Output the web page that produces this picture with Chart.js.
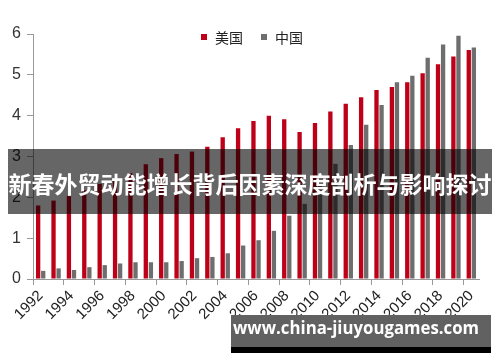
<!DOCTYPE html>
<html lang="zh">
<head>
<meta charset="UTF-8">
<title>美国 中国</title>
<script src="https://cdn.jsdelivr.net/npm/chart.js"></script>
<style>
  html, body { margin: 0; padding: 0; background: #fff; }
  #wrap { width: 500px; height: 362px; position: relative; }
</style>
</head>
<body>
<div id="wrap"><canvas id="chart" width="500" height="362"></canvas></div>
<script>
const years = ['1992','1993','1994','1995','1996','1997','1998','1999','2000','2001',
  '2002','2003','2004','2005','2006','2007','2008','2009','2010','2011',
  '2012','2013','2014','2015','2016','2017','2018','2019','2020'];
const usValues = [1.80, 1.92, 2.03, 2.17, 2.33, 2.45, 2.59, 2.81, 2.96, 3.06,
  3.12, 3.24, 3.47, 3.69, 3.87, 4.00, 3.91, 3.60, 3.82, 4.10,
  4.29, 4.45, 4.63, 4.70, 4.82, 5.04, 5.26, 5.45, 5.61];
const chinaValues = [0.20, 0.26, 0.22, 0.29, 0.34, 0.38, 0.41, 0.41, 0.41, 0.44,
  0.51, 0.54, 0.63, 0.82, 0.95, 1.18, 1.55, 1.84, 2.30, 2.82,
  3.28, 3.78, 4.26, 4.82, 4.98, 5.42, 5.74, 5.96, 5.67];
const yTicks = [0, 1, 2, 3, 4, 5, 6];
const seriesNames = ['美国', '中国'];
const bannerText = '新春外贸动能增长背后因素深度剖析与影响探讨';
const watermarkText = 'www.china-jiuyougames.com';

// legend sits inside the plot, so draw it by hand
const legendPlugin = {
  id: 'innerLegend',
  afterDraw(chart) {
    const ctx = chart.ctx;
    const spots = [201, 261];
    ctx.save();
    ctx.font = '14px "Noto Sans CJK SC"';
    ctx.textBaseline = 'middle';
    chart.data.datasets.forEach((ds, i) => {
      ctx.fillStyle = ds.backgroundColor;
      ctx.fillRect(spots[i], 34, 6, 6);
      ctx.fillStyle = '#222';
      ctx.fillText(ds.label, spots[i] + 14, 37.5);
    });
    ctx.restore();
  }
};

const overlayPlugin = {
  id: 'overlay',
  afterDraw(chart) {
    const ctx = chart.ctx;
    ctx.save();
    ctx.fillStyle = 'rgba(0,0,0,0.6)';
    ctx.fillRect(8, 149, 484, 65);
    ctx.fillStyle = '#fff';
    ctx.font = 'bold 23px "Noto Sans CJK SC"';
    ctx.textAlign = 'center';
    ctx.textBaseline = 'middle';
    ctx.fillText(bannerText, 250, 184);

    ctx.fillStyle = '#000';
    ctx.fillRect(231, 315, 260, 38);
    ctx.fillStyle = '#616161';
    ctx.fillRect(231, 315, 260, 32);
    ctx.fillStyle = '#fff';
    ctx.font = 'bold 18px "Open Sans"';
    ctx.textAlign = 'left';
    ctx.textBaseline = 'alphabetic';
    const w = ctx.measureText(watermarkText).width;
    ctx.save();
    ctx.translate(233, 334);
    ctx.scale(246 / w, 1);
    ctx.fillText(watermarkText, 0, 0);
    ctx.restore();
    ctx.restore();
  }
};

new Chart(document.getElementById('chart'), {
  type: 'bar',
  data: {
    labels: years,
    datasets: [
      { label: seriesNames[0], data: usValues, backgroundColor: '#BE0018',
        categoryPercentage: 0.66, barPercentage: 0.85 },
      { label: seriesNames[1], data: chinaValues, backgroundColor: '#6E6E6E',
        categoryPercentage: 0.66, barPercentage: 0.85 }
    ]
  },
  options: {
    responsive: false,
    animation: false,
    layout: { padding: { top: 34, right: 21, bottom: 0, left: 0 } },
    plugins: { legend: { display: false }, tooltip: { enabled: false } },
    scales: {
      x: {
        afterFit(scale) { scale.height = 83; },
        border: { color: '#999', width: 1 },
        grid: {
          drawOnChartArea: false,
          tickLength: 6,
          color: (c) => c.index % 2 === 0 ? '#999' : 'rgba(0,0,0,0)'
        },
        ticks: {
          autoSkip: false,
          minRotation: 45,
          maxRotation: 45,
          padding: 2,
          color: '#222',
          font: { family: '"Liberation Sans"', size: 15 },
          callback: function (v, i) { return i % 2 === 0 ? this.getLabelForValue(v) : ''; }
        }
      },
      y: {
        min: 0,
        max: 6,
        afterFit(scale) { scale.width = 33; },
        afterBuildTicks(scale) { scale.ticks = yTicks.map(v => ({ value: v })); },
        border: { color: '#999', width: 1 },
        grid: { drawOnChartArea: false, tickLength: 6, color: '#999' },
        ticks: {
          padding: 6,
          color: '#333',
          font: { family: '"Liberation Sans"', size: 16 }
        }
      }
    }
  },
  plugins: [legendPlugin, overlayPlugin]
});
</script>
</body>
</html>
